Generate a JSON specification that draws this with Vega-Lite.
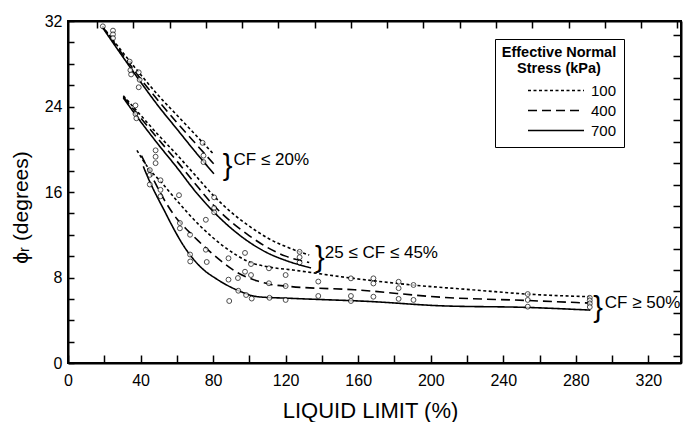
{
  "$schema": "https://vega.github.io/schema/vega-lite/v6.json",
  "width": 613,
  "height": 342,
  "autosize": {"type": "none"},
  "padding": {"left": 68, "top": 21, "right": 2, "bottom": 59},
  "background": "white",
  "config": {
    "font": "Liberation Sans",
    "view": {"stroke": "black", "strokeWidth": 2},
    "axis": {"grid": false, "domain": true, "domainColor": "black", "tickColor": "black", "domainWidth": 2, "tickWidth": 1.5, "ticks": true}
  },
  "datasets": {
    "curves": [
      {"g": "A", "s": "100", "x": 19, "y": 31.5},
      {"g": "A", "s": "100", "x": 30, "y": 29.1},
      {"g": "A", "s": "100", "x": 40, "y": 27.0},
      {"g": "A", "s": "100", "x": 50, "y": 25.0},
      {"g": "A", "s": "100", "x": 60, "y": 23.2},
      {"g": "A", "s": "100", "x": 70, "y": 21.4},
      {"g": "A", "s": "100", "x": 80.5, "y": 19.5},
      {"g": "A", "s": "400", "x": 19, "y": 31.5},
      {"g": "A", "s": "400", "x": 30, "y": 28.9},
      {"g": "A", "s": "400", "x": 40, "y": 26.6},
      {"g": "A", "s": "400", "x": 50, "y": 24.5},
      {"g": "A", "s": "400", "x": 60, "y": 22.5},
      {"g": "A", "s": "400", "x": 70, "y": 20.6},
      {"g": "A", "s": "400", "x": 80.5, "y": 18.6},
      {"g": "A", "s": "700", "x": 19, "y": 31.4},
      {"g": "A", "s": "700", "x": 30, "y": 28.7},
      {"g": "A", "s": "700", "x": 40, "y": 26.3},
      {"g": "A", "s": "700", "x": 50, "y": 24.0},
      {"g": "A", "s": "700", "x": 60, "y": 21.9},
      {"g": "A", "s": "700", "x": 70, "y": 19.8},
      {"g": "A", "s": "700", "x": 80.5, "y": 17.7},
      {"g": "B", "s": "100", "x": 30.5, "y": 25.0},
      {"g": "B", "s": "100", "x": 40, "y": 23.2},
      {"g": "B", "s": "100", "x": 50, "y": 21.3},
      {"g": "B", "s": "100", "x": 60, "y": 19.5},
      {"g": "B", "s": "100", "x": 70, "y": 17.6},
      {"g": "B", "s": "100", "x": 80, "y": 15.7},
      {"g": "B", "s": "100", "x": 90, "y": 14.1},
      {"g": "B", "s": "100", "x": 100, "y": 12.8},
      {"g": "B", "s": "100", "x": 110, "y": 11.7},
      {"g": "B", "s": "100", "x": 120, "y": 10.9},
      {"g": "B", "s": "100", "x": 133, "y": 10.1},
      {"g": "B", "s": "400", "x": 30.5, "y": 24.9},
      {"g": "B", "s": "400", "x": 40, "y": 22.95},
      {"g": "B", "s": "400", "x": 50, "y": 20.9},
      {"g": "B", "s": "400", "x": 60, "y": 18.9},
      {"g": "B", "s": "400", "x": 70, "y": 16.8},
      {"g": "B", "s": "400", "x": 80, "y": 14.8},
      {"g": "B", "s": "400", "x": 90, "y": 13.2},
      {"g": "B", "s": "400", "x": 100, "y": 11.9},
      {"g": "B", "s": "400", "x": 110, "y": 10.8},
      {"g": "B", "s": "400", "x": 120, "y": 10.0},
      {"g": "B", "s": "400", "x": 133, "y": 9.4},
      {"g": "B", "s": "700", "x": 30.5, "y": 24.8},
      {"g": "B", "s": "700", "x": 40, "y": 22.6},
      {"g": "B", "s": "700", "x": 50, "y": 20.4},
      {"g": "B", "s": "700", "x": 60, "y": 18.3},
      {"g": "B", "s": "700", "x": 70, "y": 16.1},
      {"g": "B", "s": "700", "x": 80, "y": 14.2},
      {"g": "B", "s": "700", "x": 90, "y": 12.6},
      {"g": "B", "s": "700", "x": 100, "y": 11.3},
      {"g": "B", "s": "700", "x": 110, "y": 10.3},
      {"g": "B", "s": "700", "x": 120, "y": 9.6},
      {"g": "B", "s": "700", "x": 134, "y": 8.9},
      {"g": "C", "s": "100", "x": 38, "y": 19.9},
      {"g": "C", "s": "100", "x": 44.5, "y": 18.2},
      {"g": "C", "s": "100", "x": 51, "y": 17.0},
      {"g": "C", "s": "100", "x": 60, "y": 15.2},
      {"g": "C", "s": "100", "x": 73, "y": 12.8},
      {"g": "C", "s": "100", "x": 86, "y": 10.9},
      {"g": "C", "s": "100", "x": 100, "y": 9.45},
      {"g": "C", "s": "100", "x": 112, "y": 8.95},
      {"g": "C", "s": "100", "x": 124, "y": 8.7},
      {"g": "C", "s": "100", "x": 156, "y": 7.95},
      {"g": "C", "s": "100", "x": 190, "y": 7.3},
      {"g": "C", "s": "100", "x": 223, "y": 6.85},
      {"g": "C", "s": "100", "x": 253, "y": 6.45},
      {"g": "C", "s": "100", "x": 288, "y": 6.2},
      {"g": "C", "s": "400", "x": 40.5, "y": 19.4},
      {"g": "C", "s": "400", "x": 47, "y": 17.2},
      {"g": "C", "s": "400", "x": 54, "y": 15.0},
      {"g": "C", "s": "400", "x": 60, "y": 13.5},
      {"g": "C", "s": "400", "x": 66, "y": 12.4},
      {"g": "C", "s": "400", "x": 72, "y": 11.4},
      {"g": "C", "s": "400", "x": 84, "y": 9.6},
      {"g": "C", "s": "400", "x": 93, "y": 8.5},
      {"g": "C", "s": "400", "x": 104, "y": 7.7},
      {"g": "C", "s": "400", "x": 112, "y": 7.35},
      {"g": "C", "s": "400", "x": 123, "y": 7.15},
      {"g": "C", "s": "400", "x": 158, "y": 6.85},
      {"g": "C", "s": "400", "x": 206, "y": 6.15},
      {"g": "C", "s": "400", "x": 253, "y": 5.85},
      {"g": "C", "s": "400", "x": 288, "y": 5.6},
      {"g": "C", "s": "700", "x": 41.5, "y": 18.4},
      {"g": "C", "s": "700", "x": 45, "y": 17.0},
      {"g": "C", "s": "700", "x": 49, "y": 15.6},
      {"g": "C", "s": "700", "x": 53, "y": 14.3},
      {"g": "C", "s": "700", "x": 56.6, "y": 13.1},
      {"g": "C", "s": "700", "x": 64, "y": 10.9},
      {"g": "C", "s": "700", "x": 73, "y": 9.0},
      {"g": "C", "s": "700", "x": 82.5, "y": 7.8},
      {"g": "C", "s": "700", "x": 93.6, "y": 6.8},
      {"g": "C", "s": "700", "x": 104.7, "y": 6.2},
      {"g": "C", "s": "700", "x": 123, "y": 6.05},
      {"g": "C", "s": "700", "x": 167, "y": 5.75},
      {"g": "C", "s": "700", "x": 206, "y": 5.35},
      {"g": "C", "s": "700", "x": 253, "y": 5.2},
      {"g": "C", "s": "700", "x": 288, "y": 4.95}
    ],
    "points": [
      {"x": 19.2, "y": 31.5}, {"x": 24.8, "y": 31.1}, {"x": 24.8, "y": 30.75}, {"x": 24.8, "y": 30.4},
      {"x": 34.0, "y": 28.2}, {"x": 34.4, "y": 27.4}, {"x": 34.8, "y": 27.0}, {"x": 39.0, "y": 27.2},
      {"x": 39.5, "y": 26.5}, {"x": 39.0, "y": 25.8}, {"x": 74.2, "y": 20.6}, {"x": 74.7, "y": 19.4},
      {"x": 74.7, "y": 18.8},
      {"x": 37.2, "y": 24.1}, {"x": 37.2, "y": 23.3}, {"x": 37.7, "y": 22.9}, {"x": 48.3, "y": 19.9},
      {"x": 48.3, "y": 19.3}, {"x": 48.3, "y": 18.7}, {"x": 61.2, "y": 15.7}, {"x": 76.0, "y": 13.4},
      {"x": 80.6, "y": 15.5}, {"x": 80.6, "y": 14.5}, {"x": 80.6, "y": 14.1}, {"x": 127.7, "y": 10.4},
      {"x": 127.7, "y": 9.9}, {"x": 127.7, "y": 9.4},
      {"x": 45.1, "y": 18.05}, {"x": 45.1, "y": 17.6}, {"x": 45.1, "y": 16.7}, {"x": 51.0, "y": 17.1},
      {"x": 51.0, "y": 16.2}, {"x": 51.0, "y": 15.6}, {"x": 61.7, "y": 13.1}, {"x": 61.7, "y": 12.6},
      {"x": 67.3, "y": 12.0}, {"x": 76.0, "y": 10.6}, {"x": 67.3, "y": 10.15}, {"x": 67.4, "y": 9.5},
      {"x": 76.5, "y": 9.45}, {"x": 88.5, "y": 9.8}, {"x": 97.6, "y": 10.3}, {"x": 100.9, "y": 9.26},
      {"x": 97.6, "y": 8.54}, {"x": 100.9, "y": 8.23}, {"x": 88.5, "y": 7.8}, {"x": 93.7, "y": 7.95},
      {"x": 110.8, "y": 8.86}, {"x": 110.8, "y": 7.46}, {"x": 120.0, "y": 8.23}, {"x": 120.0, "y": 7.2},
      {"x": 93.9, "y": 6.76}, {"x": 98.2, "y": 6.36}, {"x": 101.3, "y": 6.03}, {"x": 111.1, "y": 6.1},
      {"x": 88.9, "y": 5.8}, {"x": 120.0, "y": 5.9}, {"x": 138.0, "y": 7.62}, {"x": 138.0, "y": 6.27},
      {"x": 156.0, "y": 7.92}, {"x": 156.0, "y": 6.27}, {"x": 156.0, "y": 5.8}, {"x": 168.4, "y": 7.92},
      {"x": 168.4, "y": 7.44}, {"x": 168.4, "y": 6.2}, {"x": 182.3, "y": 7.6}, {"x": 182.3, "y": 7.0},
      {"x": 182.3, "y": 6.0}, {"x": 190.5, "y": 7.3}, {"x": 190.5, "y": 5.9}, {"x": 253.5, "y": 6.45},
      {"x": 253.5, "y": 5.9}, {"x": 253.5, "y": 5.27}, {"x": 287.7, "y": 6.1}, {"x": 287.7, "y": 5.85},
      {"x": 287.7, "y": 5.57}, {"x": 287.7, "y": 5.24}
    ],
    "braces": [
      {"x": 88.0, "y": 18.4},
      {"x": 138.8, "y": 9.8},
      {"x": 292.3, "y": 5.1}
    ],
    "labels": [
      {"x": 91.3, "y": 19.0, "t": "CF ≤ 20%"},
      {"x": 141.6, "y": 10.3, "t": "25 ≤ CF ≤ 45%"},
      {"x": 296, "y": 5.66, "t": "CF ≥ 50%"}
    ]
  },
  "resolve": {
    "scale": {"x": "independent", "y": "independent"},
    "axis": {"x": "independent", "y": "independent"}
  },
  "layer": [
    {
      "data": {"name": "curves"},
      "mark": {"type": "line", "color": "black", "strokeWidth": 1.6, "interpolate": "monotone"},
      "encoding": {
        "x": {
          "field": "x", "type": "quantitative",
          "scale": {"domain": [0, 338], "nice": false, "zero": false},
          "axis": {
            "orient": "bottom",
            "values": [0, 20, 40, 60, 80, 100, 120, 140, 160, 180, 200, 220, 240, 260, 280, 300, 320],
            "labelExpr": "datum.value % 40 === 0 ? datum.label : ''",
            "tickSize": -8,
            "labelPadding": 17,
            "labelFontSize": 16,
            "labelColor": "black",
            "labelFont": "Liberation Sans",
            "labelFlush": false,
            "title": "LIQUID LIMIT (%)",
            "titleFont": "Liberation Sans",
            "titleColor": "black",
            "titleFontSize": 22,
            "titleFontWeight": "normal",
            "titleX": 302,
            "titleY": 54,
            "titleBaseline": "alphabetic",
            "titleAlign": "center"
          }
        },
        "y": {
          "field": "y", "type": "quantitative",
          "scale": {"domain": [0, 32], "nice": false, "zero": false},
          "axis": {
            "orient": "left",
            "values": [0, 2, 4, 6, 8, 10, 12, 14, 16, 18, 20, 22, 24, 26, 28, 30, 32],
            "labelExpr": "datum.value % 8 === 0 ? datum.label : ''",
            "tickSize": -6,
            "labelPadding": 12,
            "labelFontSize": 16,
            "labelColor": "black",
            "labelFont": "Liberation Sans",
            "labelFlush": false,
            "title": "ϕᵣ (degrees)",
            "titleFont": "Liberation Sans",
            "titleColor": "black",
            "titleFontSize": 21,
            "titleFontWeight": "normal",
            "titleAngle": -90,
            "titleX": -41,
            "titleY": 186,
            "titleBaseline": "alphabetic",
            "titleAlign": "center"
          }
        },
        "strokeDash": {
          "field": "s", "type": "nominal",
          "scale": {"domain": ["100", "400", "700"], "range": [[3, 2.5], [9, 5], [1, 0]]},
          "legend": {
            "orient": "none",
            "legendX": 427,
            "legendY": 18,
            "title": ["\u00a0\u00a0\u00a0\u00a0Effective Normal\u00a0\u00a0\u00a0\u00a0", "Stress (kPa)"],
            "titleFontSize": 14.5,
            "titleFontWeight": "bold",
            "titleAlign": "center",
            "titleAnchor": "middle",
            "titleLineHeight": 16,
            "titlePadding": 5,
            "titleColor": "black",
            "labelFontSize": 15,
            "labelColor": "black",
            "labelOffset": 6,
            "symbolType": "stroke",
            "symbolSize": 3136,
            "symbolStrokeWidth": 1.6,
            "symbolStrokeColor": "black",
            "clipHeight": 18,
            "rowPadding": 2,
            "padding": 7,
            "strokeColor": "black",
            "fillColor": "white",
            "symbolOffset": 25
          }
        },
        "detail": {"field": "g", "type": "nominal"}
      }
    },
    {
      "data": {"name": "points"},
      "mark": {"type": "point", "shape": "circle", "size": 24, "filled": true, "fill": "white", "stroke": "black", "strokeWidth": 1},
      "encoding": {
        "x": {
          "field": "x", "type": "quantitative",
          "scale": {"domain": [0, 338], "nice": false, "zero": false},
          "axis": {
            "orient": "top",
            "values": [16, 36, 56, 76, 96, 116, 136, 156, 176, 196, 216, 236, 256, 276, 296, 316, 336],
            "labels": false,
            "tickSize": -7,
            "title": null
          }
        },
        "y": {
          "field": "y", "type": "quantitative",
          "scale": {"domain": [0, 32], "nice": false, "zero": false},
          "axis": {
            "orient": "right",
            "values": [0.7, 2.7, 4.7, 6.7, 8.7, 10.7, 12.7, 14.7, 16.7, 18.7, 20.7, 22.7, 24.7, 26.7, 28.7, 30.7],
            "labels": false,
            "tickSize": -8,
            "title": null
          }
        }
      }
    },
    {
      "data": {"name": "braces"},
      "mark": {"type": "text", "text": "}", "fontSize": 29, "align": "center", "baseline": "middle", "font": "Liberation Sans", "color": "black"},
      "encoding": {
        "x": {"field": "x", "type": "quantitative", "scale": {"domain": [0, 338], "nice": false, "zero": false}, "axis": null},
        "y": {"field": "y", "type": "quantitative", "scale": {"domain": [0, 32], "nice": false, "zero": false}, "axis": null}
      }
    },
    {
      "data": {"name": "labels"},
      "mark": {"type": "text", "fontSize": 17, "align": "left", "baseline": "middle", "font": "Liberation Sans", "color": "black"},
      "encoding": {
        "x": {"field": "x", "type": "quantitative", "scale": {"domain": [0, 338], "nice": false, "zero": false}, "axis": null},
        "y": {"field": "y", "type": "quantitative", "scale": {"domain": [0, 32], "nice": false, "zero": false}, "axis": null},
        "text": {"field": "t", "type": "nominal"}
      }
    }
  ]
}
